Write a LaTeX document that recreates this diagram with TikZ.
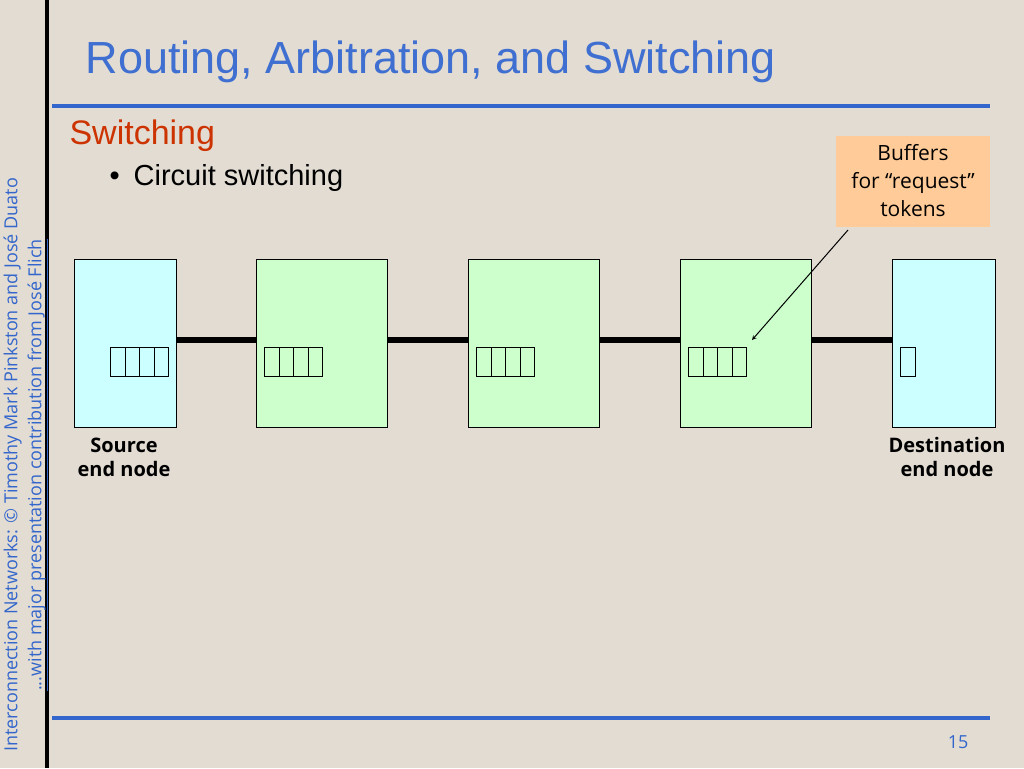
\documentclass[tikz,border=0pt]{standalone}
\usepackage{fontspec}
\setmainfont{Liberation Sans}
\newfontfamily\opsans{Open Sans}
\definecolor{bg}{HTML}{E2DCD2}
\definecolor{tblue}{HTML}{3366CC}
\definecolor{ttl}{HTML}{3F6FD0}
\definecolor{sred}{HTML}{CC3300}
\definecolor{cyanb}{HTML}{CCFFFF}
\definecolor{greenb}{HTML}{CCFFCC}
\definecolor{orng}{HTML}{FFCC99}
\begin{document}
\begin{tikzpicture}[x=1pt,y=-1pt,
  box/.style={draw=black,line width=1pt},
  cell/.style={draw=black,line width=1pt,minimum width=14.5pt,minimum height=29pt,inner sep=0pt,anchor=north west},
  link/.style={line width=6pt},
  lbl/.style={font=\opsans\bfseries\fontsize{20}{24}\selectfont,align=center}]
\fill[bg] (0,0) rectangle (1024,768);
\useasboundingbox (0,0) rectangle (1024,768);
\draw[line width=4pt] (47,0) -- (47,768);
\draw[tblue,line width=3.5pt] (52,106) -- (990,106);
\draw[tblue,line width=3.5pt] (52,718) -- (990,718);
\node[anchor=west,text=ttl,font=\fontsize{45}{50}\selectfont] (title) at (82,62) {Routing, Arbitration, and Switching};
\node[anchor=west,text=sred,font=\fontsize{34}{38}\selectfont] (sw) at (66,136) {Switching};
\node[anchor=west,font=\fontsize{29}{34}\selectfont] (cs) at (106,178) {\textbullet\hspace{14pt}Circuit switching};
\node[rotate=90,anchor=north,text=tblue,font=\opsans\fontsize{18}{24}\selectfont,align=center] (side) at (0,465) {Interconnection Networks: \textcopyright{} Timothy Mark Pinkston and José Duato\\ \underline{...with major presentation contribution from José Flich}};
\draw[link] (176,340) -- (256,340);
\draw[link] (387,340) -- (468,340);
\draw[link] (599,340) -- (680,340);
\draw[link] (811,340) -- (892,340);
\draw[box,fill=cyanb] (74,259) rectangle (176,427);
\draw[box,fill=greenb] (256,259) rectangle (387,427);
\draw[box,fill=greenb] (468,259) rectangle (599,427);
\draw[box,fill=greenb] (680,259) rectangle (811,427);
\draw[box,fill=cyanb] (892,259) rectangle (995,427);
\foreach \x in {110,264,476,688}{
  \foreach \i in {0,1,2,3}{ \node[cell] at (\x+\i*14.5,347) {}; }
}
\node[cell] (dc) at (900,347) {};
\node[lbl] (src) at (124,457) {Source\\end node};
\node[lbl] (dst) at (947,457) {Destination\\end node};
\node[fill=orng,minimum width=154pt,minimum height=91pt,inner sep=0pt,align=center,font=\opsans\fontsize{21}{28}\selectfont] (call) at (913,181) {Buffers\\for “request”\\tokens};
\coordinate (tip) at (752,340);
\draw[-stealth,line width=1pt] (848,230) -- (tip);
\node[anchor=east,text=tblue,font=\opsans\fontsize{18}{20}\selectfont] (pg) at (972,742) {15};
\end{tikzpicture}
\end{document}
